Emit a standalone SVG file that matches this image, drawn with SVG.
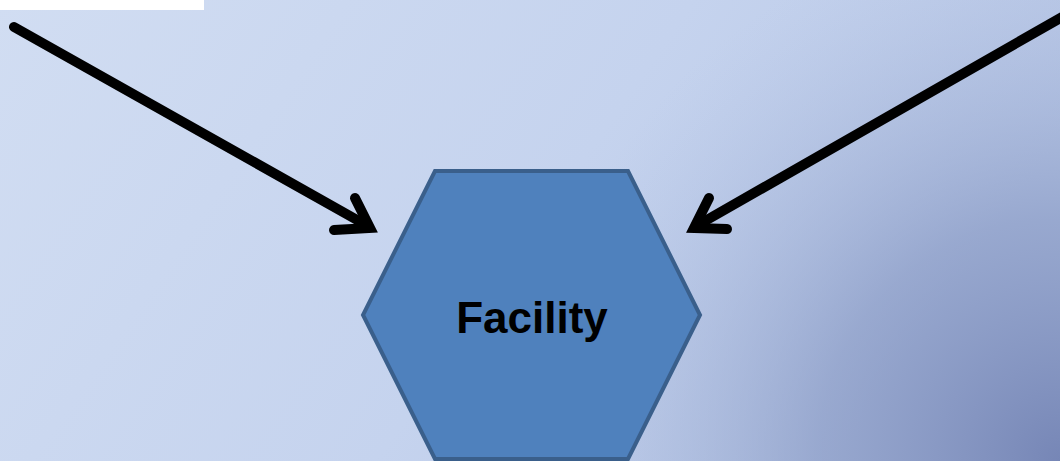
<svg xmlns="http://www.w3.org/2000/svg" width="1060" height="461" viewBox="0 0 1060 461">
<defs>
<linearGradient id="bg" x1="0" y1="0" x2="1" y2="0.3">
<stop offset="0" stop-color="#d1ddf2"/>
<stop offset="0.6" stop-color="#c5d3ee"/>
<stop offset="1" stop-color="#b8c7e6"/>
</linearGradient>
<radialGradient id="dark" cx="1060" cy="461" r="540" gradientUnits="userSpaceOnUse">
<stop offset="0" stop-color="#7686b6" stop-opacity="1"/>
<stop offset="0.45" stop-color="#8798c3" stop-opacity="0.65"/>
<stop offset="1" stop-color="#b0c0e2" stop-opacity="0"/>
</radialGradient>
<style>
.arrow{fill:none;stroke:#000;stroke-width:10;stroke-linecap:round;stroke-linejoin:miter}
.hex{fill:#4f81bd;stroke:#3a5f8b;stroke-width:4}
.label{font-family:"Liberation Sans",Arial,sans-serif;font-weight:bold;font-size:44px;fill:#000;text-anchor:middle}
</style>
</defs>
<rect x="0" y="0" width="1060" height="461" fill="url(#bg)"/>
<rect x="0" y="0" width="1060" height="461" fill="url(#dark)"/>
<rect x="0" y="0" width="204" height="10" fill="#ffffff"/>
<g id="connectors">
<path class="arrow" d="M14,27 L366,225"/>
<path class="arrow" d="M334,230 L370,228 L355,198"/>
<path class="arrow" d="M1062,17 L698,225"/>
<path class="arrow" d="M727,229 L694,228 L709,198"/>
</g>
<g id="facility">
<polygon class="hex" points="435,171 628,171 700,315 628,459 435,459 363,315"/>
<text class="label" x="532" y="333">Facility</text>
</g>
</svg>
